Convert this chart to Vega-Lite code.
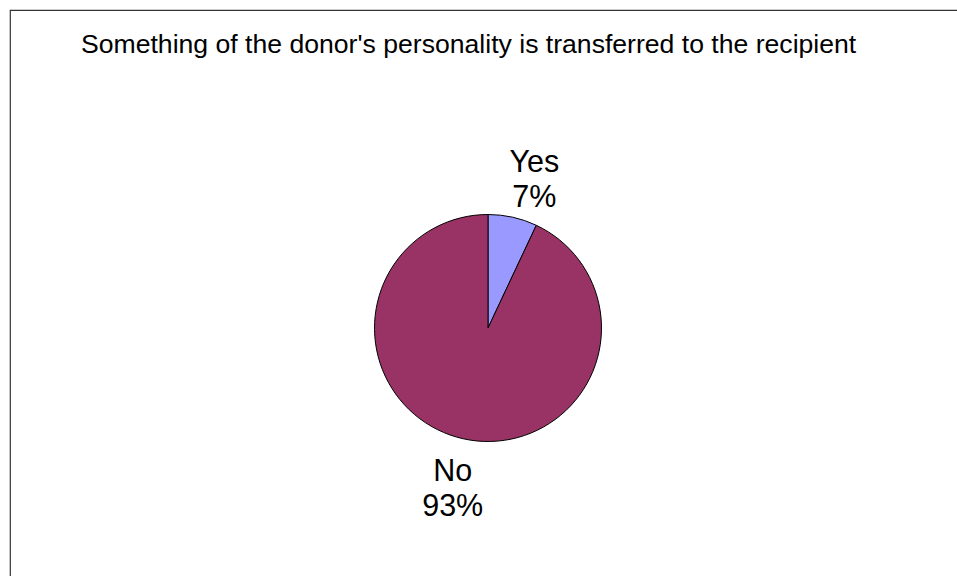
{
  "$schema": "https://vega.github.io/schema/vega-lite/v6.json",
  "width": 956,
  "height": 636,
  "autosize": {"type": "none"},
  "padding": {"left": 10, "top": 10, "right": 0, "bottom": 0},
  "background": "white",
  "config": {
    "view": {"stroke": "#333333", "strokeWidth": 1.2},
    "style": {
      "view": {"stroke": "#333333", "strokeWidth": 1.2},
      "cell": {"stroke": "#333333", "strokeWidth": 1.2}
    },
    "font": "Liberation Sans"
  },
  "title": {
    "text": "Something of the donor's personality is transferred to the recipient",
    "font": "Liberation Sans",
    "fontSize": 26.6,
    "fontWeight": "normal",
    "color": "#000000",
    "anchor": "start",
    "frame": "group",
    "orient": "top",
    "baseline": "alphabetic",
    "offset": 0,
    "dx": 71,
    "dy": 70
  },
  "data": {
    "values": [
      {"answer": "Yes", "pct": 7, "order": 1, "label": "Yes\n7%"},
      {"answer": "No", "pct": 93, "order": 2, "label": "No\n93%"}
    ]
  },
  "encoding": {
    "theta": {"field": "pct", "type": "quantitative", "stack": true},
    "order": {"field": "order", "type": "quantitative"}
  },
  "layer": [
    {
      "mark": {"type": "arc", "outerRadius": 113.5, "stroke": "#000000", "strokeWidth": 1},
      "encoding": {
        "color": {
          "field": "answer",
          "type": "nominal",
          "scale": {"domain": ["Yes", "No"], "range": ["#9999FF", "#993366"]},
          "legend": null
        }
      }
    },
    {
      "mark": {"type": "text", "radius": 171, "dx": 9, "dy": 2, "fontSize": 30.5, "lineBreak": "\n", "lineHeight": 35, "baseline": "middle", "align": "center", "font": "Liberation Sans", "color": "#000000"},
      "encoding": {"text": {"condition": {"test": "datum.answer === 'Yes'", "field": "label"}, "value": ""}}
    },
    {
      "mark": {"type": "text", "radius": 148, "dx": -3, "fontSize": 30.5, "lineBreak": "\n", "lineHeight": 35, "baseline": "middle", "align": "center", "font": "Liberation Sans", "color": "#000000"},
      "encoding": {"text": {"condition": {"test": "datum.answer === 'No'", "field": "label"}, "value": ""}}
    }
  ]
}
